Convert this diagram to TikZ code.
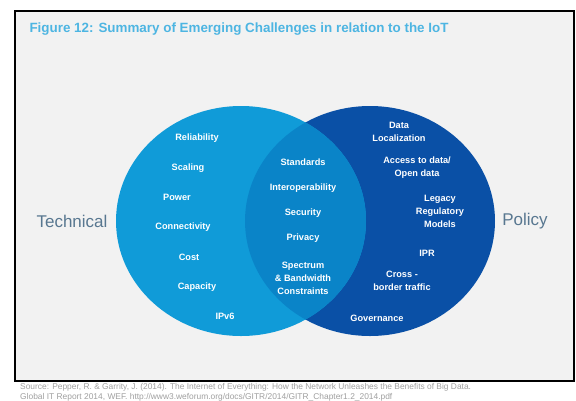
\documentclass[tikz,border=0pt]{standalone}
\usepackage{fontspec}
\setmainfont{Liberation Sans}
\usetikzlibrary{positioning}
\definecolor{Panel}{HTML}{F2F2F2}
\definecolor{SkyBlue}{HTML}{109BD8}
\definecolor{MidBlue}{HTML}{0A84C8}
\definecolor{DeepBlue}{HTML}{0A50A6}
\definecolor{TitleBlue}{HTML}{4DB5E2}
\definecolor{Slate}{HTML}{587790}
\definecolor{SourceGray}{HTML}{A0A0A0}

\begin{document}
\begin{tikzpicture}[x=1pt, y=-1pt,
  item/.style={text=white, font=\fontsize{9.2}{13}\selectfont\bfseries, align=center, inner sep=0pt},
  side/.style={text=Slate, font=\fontsize{17}{19}\selectfont},
  blob/.style={x radius=125pt, y radius=115pt}
]
\useasboundingbox[fill=white] (0,0) rectangle (576,400);
\draw[line width=1.6pt, fill=Panel] (15,11) rectangle (574,381);

\node[anchor=west, text=TitleBlue, font=\fontsize{13.4}{15}\selectfont\bfseries] (title) at (26,29)
  {Figure 12: Summary of Emerging Challenges in relation to the IoT};

% the two sets
\coordinate (tech) at (241,221);
\coordinate (pol) at (370,221);
\fill[DeepBlue] (pol) ellipse [blob];
\fill[SkyBlue] (tech) ellipse [blob];
\begin{scope}
  \clip (tech) ellipse [blob];
  \fill[MidBlue] (pol) ellipse [blob];
\end{scope}

\node[side] (technical) at (72,221) {Technical};
\node[side] (policy) at (525,221) {Policy};

% technical only
\node[item] (reliab) at (197,138) {Reliability};
\node[item] (scaling) at (188,168) {Scaling};
\node[item] (power) at (177,197) {Power};
\node[item] (connect) at (183,227) {Connectivity};
\node[item] (cost) at (189,257) {Cost};
\node[item] (capacity) at (197,287) {Capacity};
\node[item] (ipv) at (225,316) {IPv6};

% shared
\node[item] (standards) at (303,162) {Standards};
\node[item] (interop) at (303,188) {Interoperability};
\node[item] (security) at (303,213) {Security};
\node[item] (privacy) at (303,238) {Privacy};
\node[item] (spectrum) at (303,278) {Spectrum\\\& Bandwidth\\Constraints};

% policy only
\node[item] (dataloc) at (399,132) {Data\\Localization};
\node[item] (access) at (417,168) {Access to data/\\Open data};
\node[item] (legacy) at (440,211) {Legacy\\Regulatory\\Models};
\node[item] (ipr) at (427,253) {IPR};
\node[item] (cross) at (402,281) {Cross -\\border traffic};
\node[item] (govern) at (377,318) {Governance};

\node[anchor=north west, text=SourceGray, align=left, inner sep=0pt,
  font=\fontsize{8.4}{10}\selectfont] (source) at (20,383)
  {Source: Pepper, R. \& Garrity, J. (2014). The Internet of Everything: How the Network Unleashes the Benefits of Big Data.\\
   Global IT Report 2014, WEF. http://www3.weforum.org/docs/GITR/2014/GITR\_Chapter1.2\_2014.pdf};
\end{tikzpicture}
\end{document}
